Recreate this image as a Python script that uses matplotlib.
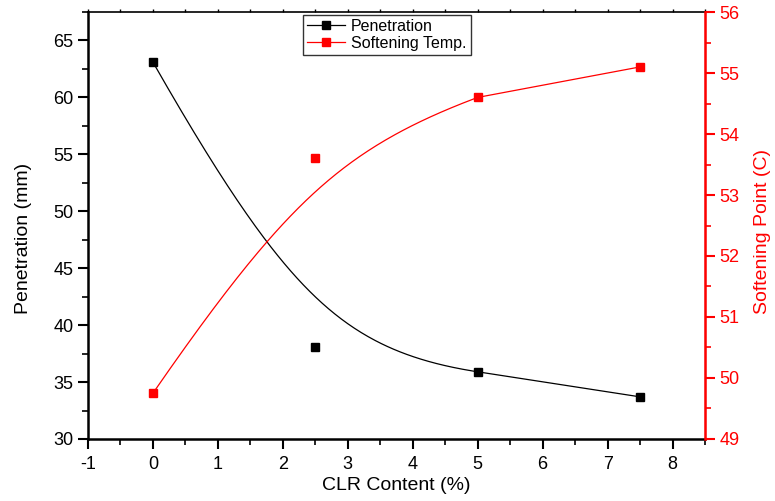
import numpy as np
import matplotlib
matplotlib.use("Agg")
import matplotlib.pyplot as plt
from matplotlib.ticker import MultipleLocator

plt.rcParams['font.family'] = ['Liberation Sans', 'DejaVu Sans']
plt.rcParams['axes.unicode_minus'] = False

clr = [0, 2.5, 5, 7.5]
penetration = [63.1, 38.1, 35.9, 33.7]
softening = [49.75, 53.6, 54.6, 55.1]

SMOOTH_W = 1.6  # weight of the middle control point of the smoothing curve


def smooth_curve(xs, ys, w=SMOOTH_W, n=200):
    """Rational quadratic B-spline-like curve through first three points,
    then a straight segment to the last point."""
    t = np.linspace(0, 1, n)
    b0, b1, b2 = (1 - t) ** 2, 2 * w * t * (1 - t), t ** 2
    den = b0 + b1 + b2
    cx = (b0 * xs[0] + b1 * xs[1] + b2 * xs[2]) / den
    cy = (b0 * ys[0] + b1 * ys[1] + b2 * ys[2]) / den
    cx = np.concatenate([cx, xs[3:]])
    cy = np.concatenate([cy, ys[3:]])
    return cx, cy


fig = plt.figure(figsize=(7.75, 5.01), dpi=100)
ax = fig.add_axes([0.1135, 0.1238, 0.7962, 0.8522])
ax2 = ax.twinx()

bx, by = smooth_curve(clr, penetration)
ax.plot(bx, by, color='black', lw=0.9)
ax.plot(clr, penetration, 's', color='black', ms=6)
sx, sy = smooth_curve(clr, softening)
ax2.plot(sx, sy, color='red', lw=0.9)
ax2.plot(clr, softening, 's', color='red', ms=6)

ax.set_xlim(-1, 8.5)
ax.set_ylim(30, 67.5)
ax2.set_ylim(49, 56)

ax.xaxis.set_major_locator(MultipleLocator(1))
ax.xaxis.set_minor_locator(MultipleLocator(0.5))
ax.yaxis.set_major_locator(MultipleLocator(5))
ax.yaxis.set_minor_locator(MultipleLocator(2.5))
ax2.yaxis.set_major_locator(MultipleLocator(1))
ax2.yaxis.set_minor_locator(MultipleLocator(0.5))

ax.tick_params(axis='both', which='major', direction='out', length=7, width=1.5, labelsize=13)
ax.tick_params(axis='both', which='minor', direction='out', length=4, width=1.2)
ax.tick_params(axis='x', which='major', pad=5)
ax.tick_params(axis='x', which='both', top=True, labeltop=False)
for tk in ax.xaxis.get_major_ticks() + ax.xaxis.get_minor_ticks():
    tk.tick2line.set_markersize(2.5)
    tk.tick2line.set_markeredgewidth(1.0)
ax2.tick_params(axis='y', which='major', direction='out', length=7, width=1.5, labelsize=13,
                colors='red')
ax2.tick_params(axis='y', which='minor', direction='out', length=4, width=1.2, colors='red')

for s in ['left', 'bottom']:
    ax.spines[s].set_linewidth(1.8)
ax.spines['top'].set_linewidth(1.2)
ax2.spines['right'].set_color('red')
ax2.spines['right'].set_linewidth(1.8)
ax2.spines['left'].set_visible(False)
ax2.spines['top'].set_visible(False)
ax2.spines['bottom'].set_visible(False)

ax.set_xlabel('CLR Content (%)', fontsize=14, labelpad=3)
ax.set_ylabel('Penetration (mm)', fontsize=14)
ax.yaxis.set_label_coords(-0.09, 0.47)
ax2.set_ylabel('Softening Point (C)', fontsize=14, color='red')
ax2.yaxis.set_label_coords(1.08, 0.485)

h1 = plt.Line2D([], [], color='black', marker='s', ms=6, lw=0.9)
h2 = plt.Line2D([], [], color='red', marker='s', ms=6, lw=0.9)
leg = ax2.legend([h1, h2], ['Penetration', 'Softening Temp.'], loc='upper center',
                 bbox_to_anchor=(0.484, 0.993), fontsize=11.5, frameon=True, fancybox=False,
                 edgecolor='black', borderpad=0.25, labelspacing=0.1, handlelength=2.4,
                 handletextpad=0.4, borderaxespad=0.0)
leg.get_frame().set_linewidth(1.0)

fig.savefig('out.png', dpi=100)
